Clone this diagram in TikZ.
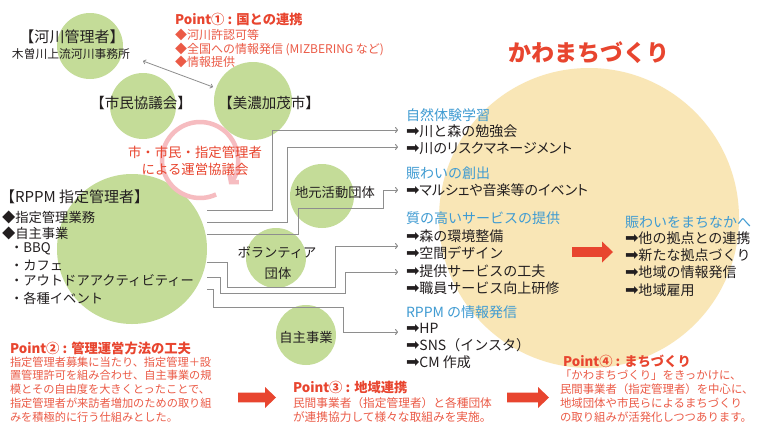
\documentclass[tikz,border=0pt]{standalone}
\usepackage{fontspec}
\setmainfont{Noto Sans CJK JP}
\newfontfamily\dvfont{DejaVu Sans}[Scale=1.15]
\usetikzlibrary{arrows.meta}
\definecolor{kred}{HTML}{E8452F}
\definecolor{kredb}{HTML}{EB5A46}
\definecolor{kblue}{HTML}{3F9BD2}
\definecolor{kgreen}{HTML}{C4DC98}
\definecolor{kyellow}{HTML}{F9E6B6}
\definecolor{kpink}{HTML}{F6BCC0}
\definecolor{kgrey}{HTML}{8E8E8E}
\definecolor{kblack}{HTML}{231F20}
\newcommand\setfs[2]{\fontsize{#1}{#2}\selectfont}
\newcommand\rarr{{\dvfont ➡}}
\newcommand\propw{\addfontfeatures{RawFeature=+palt}}
\newcommand\redarrow[3]{%
  \fill[kred] ({#1},{#2-4.8}) -- ({#1+#3-11},{#2-4.8}) -- ({#1+#3-11},{#2-10.5}) -- ({#1+#3},{#2}) -- ({#1+#3-11},{#2+10.5}) -- ({#1+#3-11},{#2+4.8}) -- ({#1},{#2+4.8}) -- cycle;}
\begin{document}
\begin{tikzpicture}[x=1pt,y=-1pt,
  gcirc/.style={circle,fill=kgreen,draw=none,inner sep=0pt,minimum size=#1},
  txt/.style={inner sep=0pt,outer sep=0pt,text=kblack},
  lw/.style={txt,anchor=west},
  fL/.style={font=\setfs{13.3}{16}},
  fH/.style={font=\setfs{15}{18}},
  fR/.style={font=\setfs{14}{17}},
  head/.style={lw,fR,text=kblue},
  ptitle/.style={lw,text=kred,font=\setfs{13.3}{16}\bfseries},
  conn/.style={draw=kgrey,line width=1pt,-{To[length=3pt,width=6pt]}},
  ring/.style={draw=kpink,line width=4.5pt,-{Straight Barb[length=5pt,width=12pt]}},
]
\fill[white] (0,0) rectangle (757,424);
\path[use as bounding box] (0,0) rectangle (757,424);

% circles
\node[circle,fill=kyellow,draw=none,inner sep=0pt,minimum size=300pt] (c-kawa) at (589,218) {};
\node[gcirc=66pt] (c-kasen) at (90,46) {};
\node[gcirc=66pt] (c-shimin) at (143,106) {};
\node[gcirc=78pt] (c-mino) at (253,101) {};
\node[gcirc=150pt] (c-rppm) at (132,249) {};
\node[gcirc=64pt] (c-jimoto) at (322,196) {};
\node[gcirc=60pt] (c-vol) at (276,258) {};
\node[gcirc=60pt] (c-jishu) at (306,335) {};

% ring arrow
\draw[ring] (200,160) ++(65:38) arc[start angle=65,end angle=400,radius=38];

% double arrow
\coordinate (a1) at (143,61);
\coordinate (a2) at (213,87);
\draw[draw=kgrey,line width=0.8pt,{To[length=3pt,width=5pt]}-{To[length=3pt,width=5pt]}] (a1) -- (a2);

% connectors
\coordinate (s1) at (207,210); \coordinate (e1) at (398,130);
\coordinate (s2) at (207,222); \coordinate (e2) at (398,147);
\coordinate (s3) at (207,234); \coordinate (e3) at (398,190);
\coordinate (s4) at (207,262); \coordinate (e4) at (398,246);
\coordinate (s5) at (207,277); \coordinate (e5) at (398,272);
\coordinate (s6) at (207,289); \coordinate (e6) at (398,332);
\draw[conn] (s1) -- (272,210) |- (e1);
\draw[conn] (s2) -- (287,222) |- (e2);
\draw[conn] (s3) -- (298,234) |- (383,208) |- (e3);
\draw[conn] (s4) -- (227,262) |- (335,287) |- (e4);
\draw[conn] (s5) -- (220,277) |- (345,293) |- (e5);
\draw[conn] (s6) -- (213,289) |- (343,307) |- (e6);

% red block arrows
\redarrow{572}{252}{41}
\redarrow{238}{397.5}{38}
\redarrow{507}{397.5}{42}

% top left texts
\node[txt,fH] (t-kasen) at (72,37) {【河川管理者】};
\node[txt,font=\setfs{11.8}{14}] (t-kasen2) at (71,54) {木曽川上流河川事務所};
\node[ptitle] (p1t) at (175,19) {Point① : 国との連携};
\node[lw,text=kredb,font=\setfs{12}{14}] (p1a) at (175,35) {◆河川許認可等};
\node[lw,text=kredb,font=\setfs{12}{14}] (p1b) at (175,49) {◆全国への情報発信 (MIZBERING など)};
\node[lw,text=kredb,font=\setfs{12}{14}] (p1c) at (175,62) {◆情報提供};

\node[txt,font=\setfs{14.5}{17}] (t-shimin) at (141,103) {【市民協議会】};
\node[txt,font=\setfs{14.5}{17}] (t-mino) at (269,103) {【美濃加茂市】};
\node[txt,text=kred,align=center,font=\setfs{13.4}{17}] (t-unei) at (195,160.5) {市・市民・指定管理者\\による運営協議会};

% RPPM
\node[lw,fH] (t-rppm) at (0,197) {【RPPM 指定管理者】};
\node[lw,fL] (t-r1) at (2,217) {◆指定管理業務};
\node[lw,fL] (t-r2) at (2,233) {◆自主事業};
\node[lw,fL] (t-r3) at (10,249) {・BBQ};
\node[lw,fL] (t-r4) at (10,265) {・カフェ};
\node[lw,fL] (t-r5) at (10,281) {・アウトドアアクティビティー};
\node[lw,fL] (t-r6) at (10,298) {・各種イベント};

% circle labels
\node[txt,fL] (t-jimoto) at (335,192) {地元活動団体};
\node[txt,fL] (t-vol1) at (277,253) {ボランティア};
\node[txt,fL] (t-vol2) at (278,273) {団体};
\node[txt,fL] (t-jishu) at (306,337) {自主事業};

% middle lists
\node[head] (rA) at (406,115) {自然体験学習};
\node[lw,fR] (rA1) at (406,131) {\rarr{}川と森の勉強会};
\node[lw,font=\setfs{14}{17}\propw] (rA2) at (406,148) {\rarr{}川のリスクマネージメント};
\node[head] (rB) at (406,173) {賑わいの創出};
\node[lw,font=\setfs{14}{17}\propw] (rB1) at (406,190) {\rarr{}マルシェや音楽等のイベント};
\node[head] (rC) at (406,218) {質の高いサービスの提供};
\node[lw,fR] (rC1) at (406,236) {\rarr{}森の環境整備};
\node[lw,fR] (rC2) at (406,253) {\rarr{}空間デザイン};
\node[lw,fR] (rC3) at (406,271) {\rarr{}提供サービスの工夫};
\node[lw,fR] (rC4) at (406,288) {\rarr{}職員サービス向上研修};
\node[head] (rD) at (406,312) {RPPM の情報発信};
\node[lw,fR] (rD1) at (406,328) {\rarr{}HP};
\node[lw,fR] (rD2) at (406,345) {\rarr{}SNS（インスタ）};
\node[lw,fR] (rD3) at (406,362) {\rarr{}CM 作成};

% right list
\node[txt,text=kred,font=\setfs{23}{26}\bfseries] (t-kawa) at (589,53) {かわまちづくり};
\node[head] (kE) at (625,222) {賑わいをまちなかへ};
\node[lw,fR] (kE1) at (625,238) {\rarr{}他の拠点との連携};
\node[lw,fR] (kE2) at (625,255) {\rarr{}新たな拠点づくり};
\node[lw,fR] (kE3) at (625,272) {\rarr{}地域の情報発信};
\node[lw,fR] (kE4) at (625,290) {\rarr{}地域雇用};

% points
\node[ptitle] (p2t) at (10,348) {Point② : 管理運営方法の工夫};
\node[lw,text=kredb,align=left,font=\setfs{11.2}{13.8}] (p2b) at (10,389.5) {指定管理者募集に当たり、指定管理＋設\\置管理許可を組み合わせ、自主事業の規\\模とその自由度を大きくとったことで、\\指定管理者が来訪者増加のための取り組\\みを積極的に行う仕組みとした。};
\node[ptitle] (p3t) at (293,387) {Point③ : 地域連携};
\node[lw,text=kredb,align=left,font=\setfs{11.7}{14.3}] (p3b) at (293,410) {民間事業者（指定管理者）と各種団体\\が連携協力して様々な取組みを実施。};
\node[ptitle] (p4t) at (563,361) {Point④ : まちづくり};
\node[lw,text=kredb,align=left,font=\setfs{11.4}{14}] (p4b) at (560,396) {「かわまちづくり」をきっかけに、\\民間事業者（指定管理者）を中心に、\\地域団体や市民らによるまちづくり\\の取り組みが活発化しつつあります。};
\end{tikzpicture}
\end{document}
